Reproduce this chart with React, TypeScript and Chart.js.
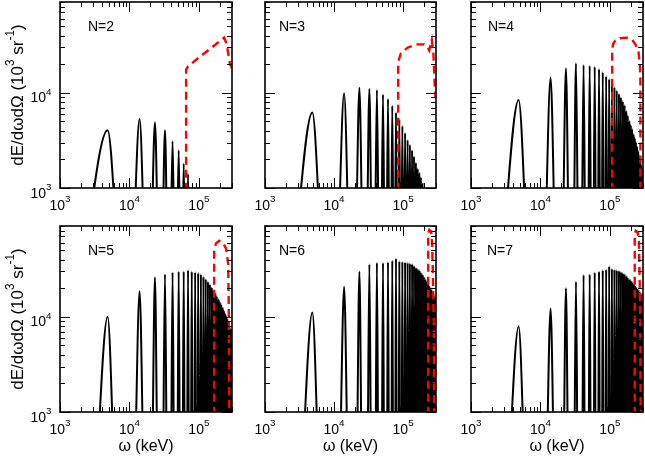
import { useEffect, useRef } from "react"
import { Chart, registerables } from "chart.js"

Chart.register(...registerables)

const W = 645
const H = 459
const FONT = "'Liberation Sans', Arial, Helvetica, sans-serif"

const X_MIN = 1e3
const X_MAX = 3e5
const Y_MIN = 1e3
const Y_MAX = 9e4

// tick decades and minor multipliers
const xDecades = [3, 4, 5]
const yDecades = [3, 4]
const minorSteps = [1, 2, 3, 4, 5, 6, 7, 8, 9]

// harmonic peak positions (keV), shared by all panels
const peakCenters = [
  4850, 14000, 23300, 32500, 41800, 51200, 60500, 69800, 79000, 88400, 97700, 107000, 116300, 125600,
  135000, 144000, 153500, 163000, 172000, 181000, 191000, 200000, 209000, 219000, 228000, 237000,
  246500, 256000, 265000, 274000, 283500, 293000,
]
// the curve falls to zero between harmonics, well below the axis
const FLOOR = 100

// peak heights per panel
const heightsN2 = [4050, 5300, 4900, 4050, 3100, 2500, 1800, 1400]
const heightsN3 = [
  6200, 9900, 11300, 11000, 10700, 9600, 8600, 7300, 6200, 5200, 4500, 3800, 3200, 2850, 2500, 2150,
  1850, 1600, 1450, 1300, 1100,
]
const heightsN4 = [
  8400, 14500, 18100, 20400, 19600, 19200, 18800, 17800, 16500, 15000, 14000, 12500, 11500, 10600,
  9800, 9000, 8200, 7400, 6500, 5800, 5100, 4600, 4200, 3700, 3350, 3050, 2750, 2450, 2200, 2000,
  1750, 1550,
]
const heightsN5 = [
  10000, 18600, 26000, 28000, 29300, 29800, 30000, 31000, 30000, 29500, 29000, 28000, 26500, 25000,
  23500, 22000, 20500, 19000, 17800, 16600, 15500, 14500, 13600, 12700, 11800, 11000, 10300, 9600,
  8900, 8200, 7600, 7100,
]
const heightsN6 = [
  11100, 20700, 29800, 35600, 37000, 37000, 37600, 39000, 41000, 38500, 38000, 37500, 37000, 36500,
  36000, 34500, 33000, 32000, 31000, 29500, 28000, 26500, 25000, 23800, 22500, 21500, 20500, 19500,
  18500, 17500, 16500, 15800,
]
const heightsN7 = [
  7900, 12200, 20000, 23300, 27500, 28000, 29300, 30000, 31000, 31500, 34000, 32000, 31500, 31000,
  30500, 29800, 29000, 28200, 27000, 26000, 25000, 24200, 23300, 22400, 21500, 20700, 20000, 19300,
  18600, 18000, 17400, 17000,
]

// half widths (keV) of the first peak and of the higher harmonics, per panel
const firstHalfWidths = [2850, 2400, 2200, 1700, 1600, 1550]
const harmonicHalfWidths = [3500, 3300, 3000, 2600, 2400, 2300]

// red dashed curves
const redXN2 = [65500, 65500, 70000, 100000, 150000, 195000, 220000, 231000, 250000, 281000, 300000]
const redYN2 = [500, 17500, 19000, 23500, 29500, 34500, 37000, 38000, 33000, 20000, 18000]
const redXN3 = [85000, 85000, 93000, 116000, 154000, 202000, 225000, 239000, 261000, 275000, 285000, 295000]
const redYN3 = [500, 21200, 26000, 29800, 32300, 32300, 30500, 28000, 35900, 26000, 14000, 9000]
const redXN4 = [108000, 108000, 111000, 120000, 140000, 175000, 210000, 235000, 258000, 270000, 275000, 276000]
const redYN4 = [500, 28000, 32500, 35500, 37500, 38000, 36000, 32000, 27000, 20000, 14000, 500]
const redXN5 = [166000, 166000, 176000, 196000, 225000, 247000, 264000, 269000, 275000]
const redYN5 = [500, 50000, 59000, 63000, 59000, 52000, 36500, 14000, 500]
const redXN6 = [231000, 231000, 240000, 255000, 263000, 270000, 278000, 283000]
const redYN6 = [500, 75000, 82000, 79000, 62000, 30000, 9000, 500]
const redXN7 = [228000, 228000, 236000, 252000, 262000, 267000, 274000, 279000]
const redYN7 = [500, 74000, 80000, 77000, 62000, 30000, 9000, 500]

interface PanelSpec {
  label: string
  heights: number[]
  firstHw: number
  hw: number
  redX: number[]
  redY: number[]
  left: number
  top: number
  right: number
  bottom: number
  labelDx: number
  yText: boolean
  xTitle: boolean
}

const panels: PanelSpec[] = [
  { label: "N=2", heights: heightsN2, firstHw: firstHalfWidths[0], hw: harmonicHalfWidths[0], redX: redXN2, redY: redYN2, left: 60, top: 2, right: 232, bottom: 188, labelDx: 28, yText: true, xTitle: false },
  { label: "N=3", heights: heightsN3, firstHw: firstHalfWidths[1], hw: harmonicHalfWidths[1], redX: redXN3, redY: redYN3, left: 265, top: 2, right: 436, bottom: 188, labelDx: 14, yText: false, xTitle: false },
  { label: "N=4", heights: heightsN4, firstHw: firstHalfWidths[2], hw: harmonicHalfWidths[2], redX: redXN4, redY: redYN4, left: 471, top: 2, right: 643, bottom: 188, labelDx: 17, yText: false, xTitle: false },
  { label: "N=5", heights: heightsN5, firstHw: firstHalfWidths[3], hw: harmonicHalfWidths[3], redX: redXN5, redY: redYN5, left: 60, top: 226, right: 232, bottom: 412, labelDx: 28, yText: true, xTitle: true },
  { label: "N=6", heights: heightsN6, firstHw: firstHalfWidths[4], hw: harmonicHalfWidths[4], redX: redXN6, redY: redYN6, left: 265, top: 226, right: 436, bottom: 412, labelDx: 14, yText: false, xTitle: true },
  { label: "N=7", heights: heightsN7, firstHw: firstHalfWidths[5], hw: harmonicHalfWidths[5], redX: redXN7, redY: redYN7, left: 471, top: 226, right: 643, bottom: 412, labelDx: 16, yText: false, xTitle: true },
]

function peakPoints(spec: PanelSpec) {
  const pts: { x: number; y: number }[] = []
  spec.heights.forEach((h, i) => {
    const c = peakCenters[i]
    const hw = i === 0 ? spec.firstHw : spec.hw
    pts.push({ x: c - hw, y: FLOOR }, { x: c, y: h }, { x: c + hw, y: FLOOR })
  })
  return pts
}

type Part = { t: string; sup?: boolean }

function drawRich(ctx: CanvasRenderingContext2D, parts: Part[], x: number, y: number, size: number, align: "left" | "center" | "right") {
  const supSize = size * 0.7
  const rise = size * 0.55
  const widths = parts.map((p) => {
    ctx.font = `${p.sup ? supSize : size}px ${FONT}`
    return ctx.measureText(p.t).width
  })
  const total = widths.reduce((s, w) => s + w, 0)
  let cx = align === "center" ? x - total / 2 : align === "right" ? x - total : x
  ctx.textAlign = "left"
  ctx.textBaseline = "alphabetic"
  parts.forEach((p, i) => {
    ctx.font = `${p.sup ? supSize : size}px ${FONT}`
    ctx.fillText(p.t, cx, p.sup ? y - rise : y)
    cx += widths[i]
  })
}

function framePlugin(spec: PanelSpec) {
  return {
    id: "frame",
    afterDatasetsDraw(chart: Chart) {
      const { ctx, chartArea: a } = chart
      const xs = chart.scales.x
      const ys = chart.scales.y
      ctx.save()
      ctx.strokeStyle = "#000"
      ctx.fillStyle = "#000"
      ctx.lineWidth = 1
      ctx.beginPath()
      xDecades.forEach((d) => {
        minorSteps.forEach((m) => {
          const v = m * 10 ** d
          if (v < X_MIN || v > X_MAX) return
          const px = Math.round(xs.getPixelForValue(v)) + 0.5
          const len = m === 1 ? 10 : 5
          ctx.moveTo(px, a.bottom)
          ctx.lineTo(px, a.bottom - len)
          ctx.moveTo(px, a.top)
          ctx.lineTo(px, a.top + len)
        })
      })
      yDecades.forEach((d) => {
        minorSteps.forEach((m) => {
          const v = m * 10 ** d
          if (v < Y_MIN || v > Y_MAX) return
          const py = Math.round(ys.getPixelForValue(v)) + 0.5
          const len = m === 1 ? 10 : 5
          ctx.moveTo(a.left, py)
          ctx.lineTo(a.left + len, py)
          ctx.moveTo(a.right, py)
          ctx.lineTo(a.right - len, py)
        })
      })
      ctx.stroke()
      ctx.lineWidth = 1.6
      ctx.strokeRect(a.left, a.top, a.right - a.left, a.bottom - a.top)

      // x tick labels
      xDecades.forEach((d) => {
        const px = xs.getPixelForValue(10 ** d)
        drawRich(ctx, [{ t: "10" }, { t: String(d), sup: true }], px, a.bottom + 22, 14, "center")
      })
      // y tick labels and title
      if (spec.yText) {
        yDecades.forEach((d) => {
          const py = ys.getPixelForValue(10 ** d)
          drawRich(ctx, [{ t: "10" }, { t: String(d), sup: true }], a.left - 8.5, py + 9.5, 14, "right")
        })
        ctx.save()
        ctx.translate(23, (a.top + a.bottom) / 2)
        ctx.rotate(-Math.PI / 2)
        drawRich(
          ctx,
          [{ t: "dE/dωdΩ (10" }, { t: "3", sup: true }, { t: " sr" }, { t: "-1", sup: true }, { t: ")" }],
          0,
          0,
          17,
          "center",
        )
        ctx.restore()
      }
      if (spec.xTitle) {
        drawRich(ctx, [{ t: "ω (keV)" }], (a.left + a.right) / 2, 451, 16, "center")
      }
      drawRich(ctx, [{ t: spec.label }], a.left + spec.labelDx, a.top + 29, 14, "left")
      ctx.restore()
    },
  }
}

function Panel({ spec }: { spec: PanelSpec }) {
  const canvasRef = useRef<HTMLCanvasElement>(null)

  useEffect(() => {
    if (!canvasRef.current) return
    const red = spec.redX.map((x, i) => ({ x, y: spec.redY[i] }))
    const chart = new Chart(canvasRef.current, {
      type: "line",
      data: {
        datasets: [
          {
            data: red,
            borderColor: "#ff0000",
            borderWidth: 2.4,
            borderDash: [8, 5],
            tension: 0,
            pointRadius: 0,
            fill: false,
          },
          {
            data: peakPoints(spec),
            borderColor: "#000000",
            borderWidth: 2,
            cubicInterpolationMode: "monotone",
            tension: 0.4,
            pointRadius: 0,
            fill: false,
          },
        ],
      },
      options: {
        responsive: false,
        animation: false,
        events: [],
        layout: {
          padding: { left: spec.left, top: spec.top, right: W - spec.right, bottom: H - spec.bottom },
        },
        scales: {
          x: { type: "logarithmic", min: X_MIN, max: X_MAX, display: false },
          y: { type: "logarithmic", min: Y_MIN, max: Y_MAX, display: false },
        },
        plugins: {
          legend: { display: false },
          tooltip: { enabled: false },
        },
      },
      plugins: [framePlugin(spec)],
    })
    return () => chart.destroy()
  }, [spec])

  return (
    <canvas
      ref={canvasRef}
      width={W}
      height={H}
      style={{ position: "absolute", left: 0, top: 0, width: W, height: H }}
    />
  )
}

export default function App() {
  return (
    <div style={{ position: "fixed", left: 0, top: 0, width: W, height: H, background: "#fff" }}>
      {panels.map((p) => (
        <Panel key={p.label} spec={p} />
      ))}
    </div>
  )
}
